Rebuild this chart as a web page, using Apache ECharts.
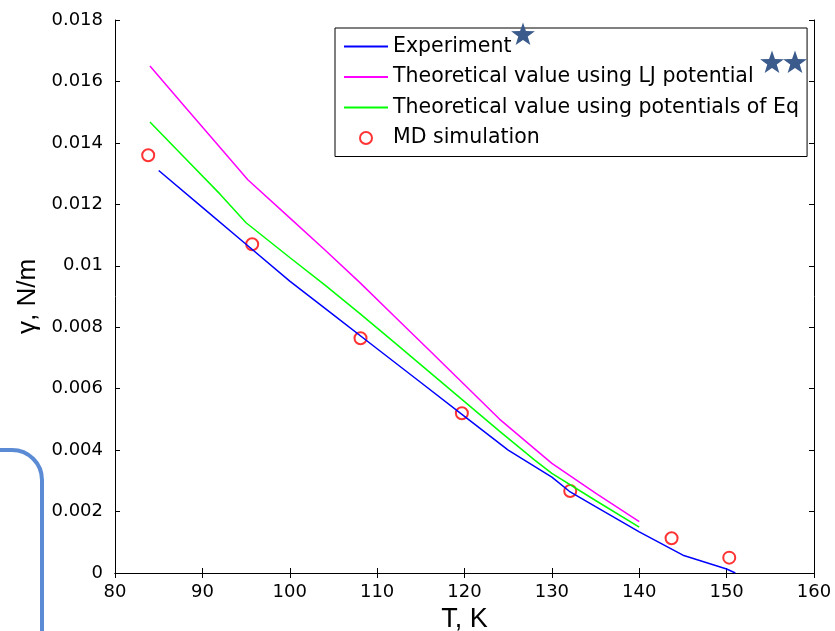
<!DOCTYPE html>
<html>
<head>
<meta charset="utf-8">
<script src="https://cdn.jsdelivr.net/npm/echarts@6/dist/echarts.min.js"></script>
<style>
    html, body { margin: 0; padding: 0; background: #fff; }
    #chart { width: 835px; height: 631px; }
</style>
</head>
<body>
<div id="chart"></div>
<script>
    // Experiment
    const expT = [85, 90, 95, 100, 105, 110, 115, 120, 125, 130, 132, 135, 140, 145, 150, 151];
    const expGamma = [0.0131, 0.0119, 0.0107, 0.0095, 0.0084, 0.0073, 0.0062, 0.0051, 0.0040, 0.00312, 0.00266, 0.00216, 0.00134, 0.00058, 0.00013, 0.0];
    // Theoretical, LJ potential
    const ljT = [84, 88, 92, 95.2, 100, 104, 108, 112, 116, 120, 124, 128, 130, 135, 140];
    const ljGamma = [0.0165, 0.01518, 0.01386, 0.0128, 0.01156, 0.01052, 0.00946, 0.00835, 0.00724, 0.00613, 0.00501, 0.00405, 0.00357, 0.0026, 0.00167];
    // Theoretical, potentials of Eq
    const eqT = [84, 88, 92, 95, 100, 104, 108, 112, 116, 120, 124, 128, 130, 135, 140];
    const eqGamma = [0.01468, 0.01351, 0.01234, 0.0114, 0.01027, 0.00938, 0.00845, 0.0075, 0.00654, 0.00558, 0.00462, 0.00368, 0.00324, 0.00236, 0.00149];
    // MD simulation
    const mdT = [83.8, 95.7, 108.1, 119.7, 132.1, 143.7, 150.3];
    const mdGamma = [0.0136, 0.0107, 0.00764, 0.0052, 0.00267, 0.00113, 0.0005];

    const seriesNames = ['Experiment', 'Theoretical value using LJ potential', 'Theoretical value using potentials of Eq', 'MD simulation'];

    const zip = (a, b) => a.map((v, i) => [v, b[i]]);

    function starPoints(cx, cy, r) {
        const pts = [];
        for (let i = 0; i < 10; i++) {
            const rr = i % 2 === 0 ? r : r * 0.4;
            const a = -Math.PI / 2 + i * Math.PI / 5;
            pts.push([cx + rr * Math.cos(a), cy + rr * Math.sin(a)]);
        }
        return pts;
    }

    const font = 'DejaVu Sans, sans-serif';
    const nameFont = 'Liberation Sans, Arial, sans-serif';
    const axisCommon = {
        axisLine: { lineStyle: { color: '#000', width: 1 } },
        axisTick: { inside: true, length: 5, lineStyle: { color: '#000' } },
        splitLine: { show: false }
    };

    const myChart = echarts.init(document.getElementById('chart'));
    const starColor = '#3b5b8c';
    const bracketColor = '#5b8bd5';
    const option = {
        animation: false,
        backgroundColor: '#fff',
        grid: { left: 115, right: 21, top: 20, bottom: 58, containLabel: false, outerBoundsMode: 'none' },
        xAxis: [
            Object.assign({
                type: 'value', min: 80, max: 160, interval: 10,
                name: 'T, K', nameLocation: 'middle', nameGap: 27,
                nameTextStyle: { fontFamily: nameFont, fontSize: 27, color: '#000' },
                axisLabel: { fontFamily: font, fontSize: 18, color: '#000', margin: 10 }
            }, axisCommon),
            Object.assign({
                type: 'value', min: 80, max: 160, interval: 10, position: 'top',
                axisLabel: { show: false }
            }, axisCommon)
        ],
        yAxis: [
            Object.assign({
                type: 'value', min: 0, max: 0.018, interval: 0.002,
                name: 'γ, N/m', nameLocation: 'middle', nameGap: 63,
                nameTextStyle: { fontFamily: nameFont, fontSize: 26, color: '#000' },
                axisLabel: { fontFamily: font, fontSize: 18, color: '#000', margin: 12 }
            }, axisCommon),
            Object.assign({
                type: 'value', min: 0, max: 0.018, interval: 0.002, position: 'right',
                axisLabel: { show: false }
            }, axisCommon)
        ],
        legend: {
            orient: 'vertical',
            left: 335, top: 28,
            padding: [8, 8, 8, 8],
            itemGap: 9.5,
            itemWidth: 44, itemHeight: 12,
            backgroundColor: '#fff',
            borderColor: '#000', borderWidth: 1, borderRadius: 0,
            textStyle: { fontFamily: font, fontSize: 20.5, color: '#000', lineHeight: 20 },
            data: [
                { name: seriesNames[0], itemStyle: { opacity: 0 } },
                { name: seriesNames[1], itemStyle: { opacity: 0 } },
                { name: seriesNames[2], itemStyle: { opacity: 0 } },
                { name: seriesNames[3] }
            ]
        },
        series: [
            {
                name: seriesNames[0], type: 'line', data: zip(expT, expGamma),
                showSymbol: false, symbol: 'none',
                lineStyle: { color: '#0000ff', width: 1.5 }, itemStyle: { color: '#0000ff' }
            },
            {
                name: seriesNames[1], type: 'line', data: zip(ljT, ljGamma),
                showSymbol: false, symbol: 'none',
                lineStyle: { color: '#ff00ff', width: 1.5 }, itemStyle: { color: '#ff00ff' }
            },
            {
                name: seriesNames[2], type: 'line', data: zip(eqT, eqGamma),
                showSymbol: false, symbol: 'none',
                lineStyle: { color: '#00ff00', width: 1.5 }, itemStyle: { color: '#00ff00' }
            },
            {
                name: seriesNames[3], type: 'scatter', data: zip(mdT, mdGamma),
                symbol: 'emptyCircle', symbolSize: 12,
                itemStyle: { color: '#ff0000', borderColor: '#ff0000', borderWidth: 1.5 }
            }
        ],
        graphic: [
            { type: 'polygon', shape: { points: starPoints(523, 35, 12.5) }, style: { fill: starColor }, z: 100 },
            { type: 'polygon', shape: { points: starPoints(772, 63, 12.5) }, style: { fill: starColor }, z: 100 },
            { type: 'polygon', shape: { points: starPoints(795, 63, 12.5) }, style: { fill: starColor }, z: 100 },
            { type: 'line', z: 100, shape: { x1: -5, y1: 450, x2: 12, y2: 450 }, style: { stroke: bracketColor, lineWidth: 4 } },
            { type: 'arc', z: 100, shape: { cx: 12, cy: 480, r: 30, startAngle: -Math.PI / 2, endAngle: 0, clockwise: true }, style: { fill: null, stroke: bracketColor, lineWidth: 4 } },
            { type: 'line', z: 100, shape: { x1: 42, y1: 480, x2: 42, y2: 640 }, style: { stroke: bracketColor, lineWidth: 4 } }
        ]
    };
    myChart.setOption(option);
</script>
</body>
</html>
